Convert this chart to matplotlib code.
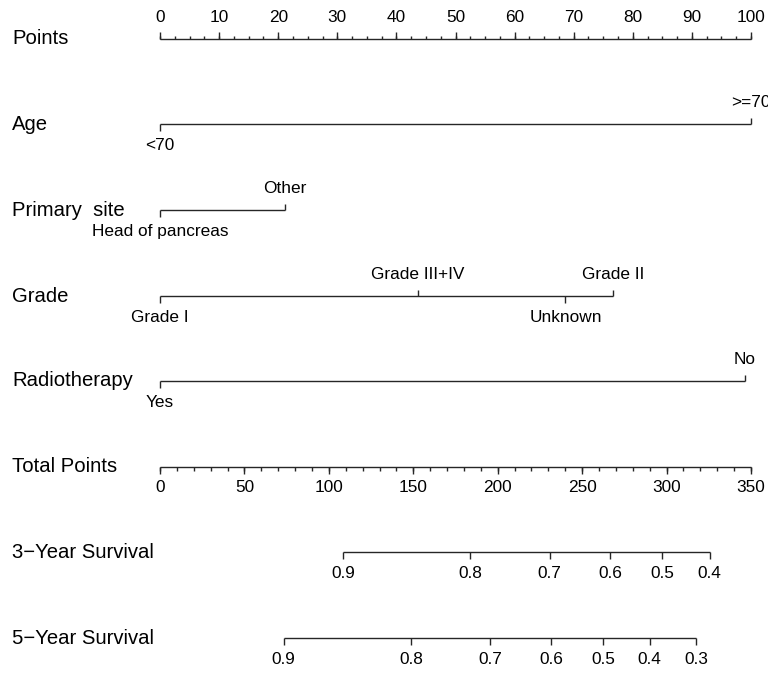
import matplotlib
matplotlib.use("Agg")
import matplotlib.pyplot as plt
from matplotlib.transforms import blended_transform_factory

plt.rcParams['font.family'] = ['Liberation Sans', 'DejaVu Sans']

# ---------------- data ----------------
points_ticks = [0, 10, 20, 30, 40, 50, 60, 70, 80, 90, 100]
points_minor_step = 2.5

age_levels = ["<70", ">=70"]
age_points = [0, 100]

site_levels = ["Head of pancreas", "Other"]
site_points = [0, 21.2]

grade_levels = ["Grade I", "Grade III+IV", "Unknown", "Grade II"]
grade_points = [0, 43.6, 68.6, 76.7]

radio_levels = ["Yes", "No"]
radio_points = [0, 99.0]

total_ticks = [0, 50, 100, 150, 200, 250, 300, 350]
total_minor_step = 10
total_max = 350

surv3_labels = ["0.9", "0.8", "0.7", "0.6", "0.5", "0.4"]
surv3_total = [108.4, 183.8, 230.8, 266.7, 297.5, 325.5]

surv5_labels = ["0.9", "0.8", "0.7", "0.6", "0.5", "0.4", "0.3"]
surv5_total = [73.3, 148.6, 195.4, 231.5, 262.3, 290.0, 317.6]

# ---------------- layout ----------------
W, H = 768, 673
fig = plt.figure(figsize=(W / 100, H / 100), dpi=100)
ax = fig.add_axes([160 / W, 0, 591 / W, 1])
ax.set_xlim(0, 100)
ax.set_ylim(H, 0)
ax.axis('off')

LC = '#262626'
LW = 1.0
TICK_FS = 12.4
LAB_FS = 14.6
left_tr = blended_transform_factory(fig.transFigure, ax.transData)


def hline(x0, x1, y):
    ax.plot([x0, x1], [y, y], color=LC, lw=LW, clip_on=False, solid_capstyle='butt')


def vtick(x, y, length):
    ax.plot([x, x], [y, y + length], color=LC, lw=LW, clip_on=False, solid_capstyle='butt')


def row_label(text, y):
    ax.text(12 / W, y, text, transform=left_tr, ha='left', va='center', fontsize=LAB_FS, color='black')


def label(x, y, text):
    ax.text(x, y, text, ha='center', va='center', fontsize=TICK_FS, color='black', clip_on=False)


# Points
y = 39
row_label("Points", y)
hline(points_ticks[0], points_ticks[-1], y)
n = int(round((points_ticks[-1] - points_ticks[0]) / points_minor_step))
for i in range(n + 1):
    v = points_ticks[0] + i * points_minor_step
    vtick(v, y, -3.5)
for v in points_ticks:
    vtick(v, y, -7)
    label(v, y - 22, str(v))

# categorical variables
def cat_row(name, levels, pts, y, sides):
    row_label(name, y)
    hline(min(pts), max(pts), y)
    for lev, p, s in zip(levels, pts, sides):
        d = -1 if s == 'up' else 1
        vtick(p, y, d * 6.5)
        label(p, y + d * 21.5, lev)

cat_row("Age", age_levels, age_points, 124, ['down', 'up'])
cat_row("Primary  site", site_levels, site_points, 210, ['down', 'up'])
cat_row("Grade", grade_levels, grade_points, 296, ['down', 'up', 'down', 'up'])
cat_row("Radiotherapy", radio_levels, radio_points, 381, ['down', 'up'])

# Total points
scale = 100 / total_max
y = 467
row_label("Total Points", y)
hline(total_ticks[0] * scale, total_ticks[-1] * scale, y)
for v in range(total_ticks[0], total_ticks[-1] + 1, total_minor_step):
    vtick(v * scale, y, 3.5)
for v in total_ticks:
    vtick(v * scale, y, 6.5)
    label(v * scale, y + 21, str(v))

# Survival rows
def surv_row(name, labels, totals, y):
    row_label(name, y)
    xs = [t * scale for t in totals]
    hline(min(xs), max(xs), y)
    for x, l in zip(xs, labels):
        vtick(x, y, 6.5)
        label(x, y + 21, l)

surv_row("3\u2212Year Survival", surv3_labels, surv3_total, 552)
surv_row("5\u2212Year Survival", surv5_labels, surv5_total, 638)

fig.savefig("out.png", dpi=100)
